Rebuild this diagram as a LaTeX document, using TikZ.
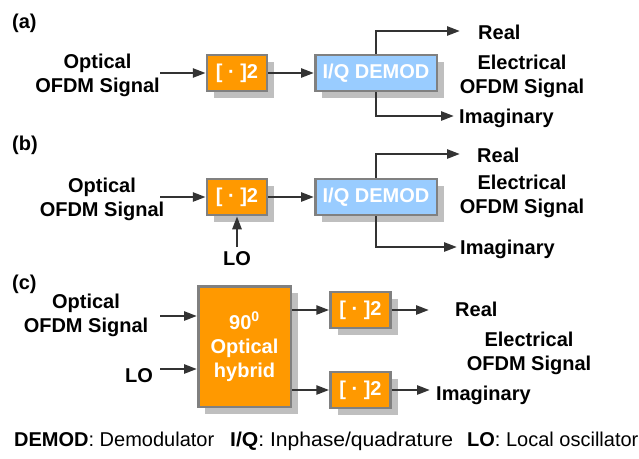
\documentclass[tikz,border=0pt]{standalone}
\usepackage{fontspec}
\setmainfont{Liberation Sans}
\usetikzlibrary{arrows.meta,shadows}
\definecolor{boxorange}{HTML}{FF9900}
\definecolor{boxblue}{HTML}{99CCFF}
\definecolor{boxborder}{HTML}{808080}
\definecolor{shadowgray}{HTML}{BFBFBF}
\definecolor{arrowgray}{HTML}{333333}
\begin{document}
\begin{tikzpicture}[x=1pt,y=-1pt,
  lbl/.style={font=\fontsize{20}{24}\selectfont\bfseries, inner sep=0pt},
  leg/.style={font=\fontsize{20}{24}\selectfont, inner sep=0pt, anchor=base west},
  blk/.style={draw=boxborder, line width=2.5pt, font=\fontsize{20}{24}\selectfont\bfseries,
    text=white, inner sep=0pt,
    drop shadow={shadow xshift=7pt, shadow yshift=-7pt, fill=shadowgray, opacity=1}},
  sqbox/.style={blk, fill=boxorange, minimum width=60pt, minimum height=36pt},
  iqbox/.style={blk, fill=boxblue, minimum width=121.5pt, minimum height=36pt},
  arr/.style={draw=arrowgray, line width=2.6pt, -{Triangle[length=13pt,width=9pt]}},
]
\useasboundingbox (0,0) rectangle (639,458);

% ---------- (a) ----------
\node[lbl, anchor=base west] (la) at (12,28) {(a)};
\node[lbl, align=center] (optA) at (97.5,75.5) {Optical\\OFDM Signal};
\coordinate (inA) at (160,73);
\node[sqbox] (sqa) at (237,73) {{[} · {]}2};
\node[iqbox] (iqa) at (376,73) {I/Q DEMOD};
\coordinate (reA) at (460,31);
\coordinate (imA) at (454,116);
\draw[arr] (inA) -- (sqa);
\draw[arr] (sqa) -- (iqa);
\draw[arr] (iqa.north) |- (reA);
\draw[arr] (iqa.south) |- (imA);
\node[lbl, anchor=base west] (realA) at (478,39) {Real};
\node[lbl, anchor=base west] (imagA) at (459,123) {Imaginary};
\node[lbl, align=center] (elA) at (522,76) {Electrical\\OFDM Signal};

% ---------- (b) ----------
\node[lbl, anchor=base west] (lb) at (12,150) {(b)};
\node[lbl, align=center] (optB) at (102,199.5) {Optical\\OFDM Signal};
\coordinate (inB) at (160,197);
\node[sqbox] (sqb) at (237,197) {{[} · {]}2};
\node[iqbox] (iqb) at (376,197) {I/Q DEMOD};
\coordinate (reB) at (460,154);
\coordinate (imB) at (457,247);
\coordinate (loBs) at (237,247);
\draw[arr] (inB) -- (sqb);
\draw[arr] (sqb) -- (iqb);
\draw[arr] (iqb.north) |- (reB);
\draw[arr] (iqb.south) |- (imB);
\draw[arr] (loBs) -- (sqb.south);
\node[lbl, anchor=base] (loB) at (237,265) {LO};
\node[lbl, anchor=base west] (realB) at (477,162) {Real};
\node[lbl, anchor=base west] (imagB) at (460,254) {Imaginary};
\node[lbl, align=center] (elB) at (522,196.5) {Electrical\\OFDM Signal};

% ---------- (c) ----------
\node[lbl, anchor=base west] (lc) at (12,289) {(c)};
\node[lbl, align=center] (optC) at (86,315.5) {Optical\\OFDM Signal};
\node[lbl, anchor=base west] (loC) at (125,382) {LO};
\coordinate (inC) at (160,316);
\coordinate (loCs) at (160,369);
\node[blk, fill=boxorange, minimum width=92.5pt, minimum height=120.5pt, align=center]
  (hyb) at (244.5,346.5) {90\textsuperscript{0}\\Optical\\hybrid};
\node[sqbox] (sqc1) at (360.5,310) {{[} · {]}2};
\node[sqbox] (sqc2) at (360.5,390) {{[} · {]}2};
\coordinate (reC) at (429,310);
\coordinate (imC) at (430,390);
\draw[arr] (inC) -- (inC -| hyb.west);
\draw[arr] (loCs) -- (loCs -| hyb.west);
\draw[arr] (hyb.east |- sqc1) -- (sqc1);
\draw[arr] (hyb.east |- sqc2) -- (sqc2);
\draw[arr] (sqc1) -- (reC);
\draw[arr] (sqc2) -- (imC);
\node[lbl, anchor=base west] (realC) at (455,316) {Real};
\node[lbl, anchor=base west] (imagC) at (436,400) {Imaginary};
\node[lbl, align=center] (elC) at (529,353) {Electrical\\OFDM Signal};

% ---------- legend ----------
\node[leg] (legA) at (14,446) {\textbf{DEMOD}: Demodulator};
\node[leg] (legB) at (230,446) {\scalebox{1.055}[1]{\textbf{I/Q}: Inphase/quadrature}};
\node[leg] (legC) at (467,446) {\textbf{LO}: Local oscillator};
\end{tikzpicture}
\end{document}
